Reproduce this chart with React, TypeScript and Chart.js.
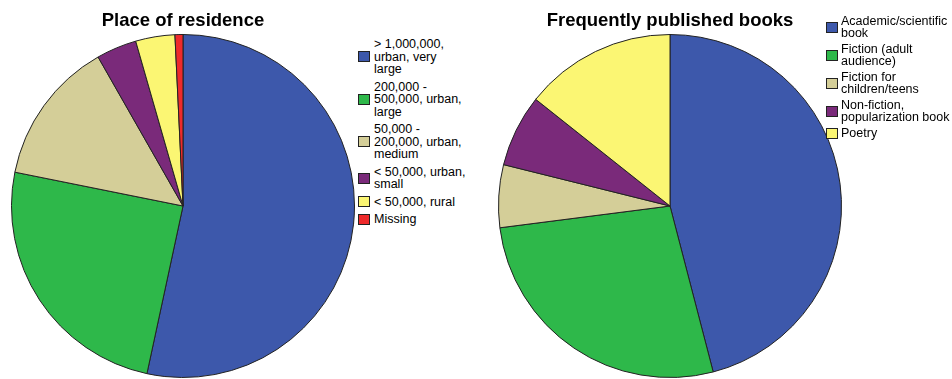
import React, { useEffect, useRef } from "react";
import { Chart, registerables } from "chart.js";

Chart.register(...registerables);

// ---- Data ----
const residenceTitle = "Place of residence";
const residenceLabels: string[][] = [
  ["> 1,000,000,", "urban, very", "large"],
  ["200,000 -", "500,000, urban,", "large"],
  ["50,000 -", "200,000, urban,", "medium"],
  ["< 50,000, urban,", "small"],
  ["< 50,000, rural"],
  ["Missing"],
];
const residenceValues = [53.4, 24.8, 13.6, 3.8, 3.7, 0.75];
const residenceColors = ["#3D58AB", "#2EB84A", "#D4CE98", "#7A2A7A", "#FBF673", "#EE2A2B"];

const booksTitle = "Frequently published books";
const booksLabels: string[][] = [
  ["Academic/scientific", "book"],
  ["Fiction (adult", "audience)"],
  ["Fiction for", "children/teens"],
  ["Non-fiction,", "popularization book"],
  ["Poetry"],
];
const booksValues = [45.9, 27.0, 5.9, 6.8, 14.3];
const booksColors = ["#3D58AB", "#2EB84A", "#D4CE98", "#7A2A7A", "#FBF673"];

const TITLE_FONT = "'Liberation Sans', Arial, sans-serif";
const LEGEND_FONT = "'Liberation Sans', Arial, sans-serif";

type PieProps = {
  title: string;
  labels: string[][];
  values: number[];
  colors: string[];
  left: number;
  size: number;
};

function PieChart({ title, labels, values, colors, left, size }: PieProps) {
  const ref = useRef<HTMLCanvasElement | null>(null);
  useEffect(() => {
    if (!ref.current) return;
    const chart = new Chart(ref.current, {
      type: "pie",
      data: {
        labels: labels.map((l) => l.join(" ")),
        datasets: [
          {
            data: values,
            backgroundColor: colors,
            borderColor: "#222222",
            borderWidth: 1,
          },
        ],
      },
      options: {
        responsive: false,
        animation: false,
        layout: { padding: { top: 0, bottom: 1, left: 0, right: 0 } },
        plugins: {
          legend: { display: false },
          tooltip: { enabled: false },
          title: {
            display: true,
            text: title,
            color: "#000000",
            font: { family: TITLE_FONT, size: 18.5, weight: "bold", lineHeight: 1.2 },
            padding: { top: 9.5, bottom: 2.3 },
          },
        },
      },
    });
    return () => chart.destroy();
  }, [title, labels, values, colors]);
  return (
    <canvas
      ref={ref}
      width={size}
      height={379}
      style={{ position: "absolute", left, top: 0, width: size, height: 379 }}
    />
  );
}

type LegendProps = {
  labels: string[][];
  colors: string[];
  left: number;
  top: number;
  textLeft: number;
  lineHeight: number;
  gap: number;
};

function Legend({ labels, colors, left, top, textLeft, lineHeight, gap }: LegendProps) {
  return (
    <div
      style={{
        position: "absolute",
        left,
        top,
        fontFamily: LEGEND_FONT,
        fontSize: 12.5,
        lineHeight: `${lineHeight}px`,
        color: "#000",
        whiteSpace: "nowrap",
      }}
    >
      {labels.map((lines, i) => (
        <div
          key={i}
          style={{ display: "flex", alignItems: "center", marginBottom: gap }}
        >
          <div
            style={{
              width: 10,
              height: 9,
              border: "1px solid #222",
              background: colors[i],
              marginRight: textLeft - left - 12,
              flex: "none",
            }}
          />
          <div>
            {lines.map((ln, j) => (
              <div key={j}>{ln}</div>
            ))}
          </div>
        </div>
      ))}
    </div>
  );
}

export default function App() {
  return (
    <div
      style={{
        position: "absolute",
        left: 0,
        top: 0,
        width: 952,
        height: 379,
        background: "#ffffff",
        overflow: "hidden",
      }}
    >
      <PieChart
        title={residenceTitle}
        labels={residenceLabels}
        values={residenceValues}
        colors={residenceColors}
        left={11}
        size={344}
      />
      <Legend
        labels={residenceLabels}
        colors={residenceColors}
        left={358}
        top={38}
        textLeft={374}
        lineHeight={12.5}
        gap={5}
      />
      <PieChart
        title={booksTitle}
        labels={booksLabels}
        values={booksValues}
        colors={booksColors}
        left={498}
        size={344}
      />
      <Legend
        labels={booksLabels}
        colors={booksColors}
        left={826}
        top={15}
        textLeft={841}
        lineHeight={12}
        gap={4}
      />
    </div>
  );
}
